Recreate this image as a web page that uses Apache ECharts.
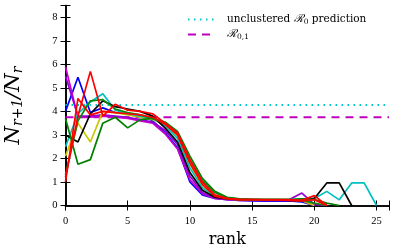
<!DOCTYPE html>
<html><head><meta charset="utf-8">
<script src="https://cdn.jsdelivr.net/npm/echarts@6/dist/echarts.min.js"></script>
<style>html,body{margin:0;padding:0;background:#fff}#c{width:400px;height:250px}</style>
</head><body><div id="c"></div>
<script>
const xTicks = [0, 5, 10, 15, 20, 25];
const yTicks = [0, 1, 2, 3, 4, 5, 6, 7, 8];
const unclusteredR0 = 4.27;
const R01 = 3.75;
const blue    = [4.0, 5.45, 3.95, 4.15, 3.95, 3.9, 3.85, 3.6, 3.1, 2.45, 1.0, 0.45, 0.3, 0.25, 0.22, 0.2, 0.18, 0.18, 0.2, 0.15, 0.0];
const magenta = [5.9, 3.75, 3.75, 3.8, 3.75, 3.7, 3.6, 3.5, 3.05, 2.4, 1.1, 0.5, 0.3, 0.25, 0.22, 0.22, 0.22, 0.22, 0.22, 0.2, 0.0];
const purple  = [5.5, 3.8, 3.8, 3.85, 3.8, 3.75, 3.65, 3.55, 3.2, 2.6, 1.25, 0.55, 0.32, 0.26, 0.24, 0.24, 0.24, 0.24, 0.25, 0.53, 0.05, 0.0];
const yellow  = [2.1, 3.5, 2.7, 4.0, 3.95, 3.85, 3.75, 3.65, 3.45, 2.95, 1.75, 0.8, 0.4, 0.28, 0.25, 0.25, 0.25, 0.25, 0.24, 0.2, 0.0];
const cyan    = [2.5, 3.9, 4.4, 4.75, 4.05, 3.9, 3.8, 3.7, 3.4, 2.85, 1.6, 0.75, 0.4, 0.28, 0.25, 0.25, 0.25, 0.25, 0.25, 0.28, 0.3, 0.6, 0.24, 0.96, 0.96, 0.0];
const black   = [3.0, 2.7, 3.9, 4.45, 4.2, 4.1, 4.0, 3.8, 3.3, 2.7, 1.4, 0.65, 0.35, 0.28, 0.25, 0.25, 0.24, 0.24, 0.22, 0.2, 0.3, 0.96, 0.96, 0.0];
const green1  = [3.7, 1.75, 1.95, 3.5, 3.75, 3.3, 3.65, 3.7, 3.55, 3.15, 2.1, 1.15, 0.6, 0.35, 0.28, 0.25, 0.25, 0.25, 0.25, 0.28, 0.25, 0.1, 0.0];
const green2  = [1.3, 3.6, 4.45, 4.5, 4.1, 3.95, 3.85, 3.7, 3.5, 3.05, 1.95, 1.05, 0.55, 0.32, 0.27, 0.25, 0.25, 0.25, 0.25, 0.22, 0.1, 0.0];
const red2    = [1.0, 4.55, 3.85, 4.0, 3.95, 3.9, 3.85, 3.75, 3.45, 3.0, 1.8, 0.9, 0.4, 0.28, 0.25, 0.25, 0.24, 0.24, 0.22, 0.2, 0.25, 0.0];
const red1    = [1.2, 3.8, 5.7, 3.8, 4.3, 4.05, 4.0, 3.9, 3.5, 3.1, 1.95, 1.0, 0.45, 0.3, 0.25, 0.25, 0.25, 0.25, 0.25, 0.22, 0.42, 0.0];

const runs = [
  ['blue', blue, '#0000ff'], ['magenta', magenta, '#cc00cc'], ['purple', purple, '#9400d3'],
  ['yellow', yellow, '#c8c800'], ['cyan', cyan, '#00c0c0'], ['black', black, '#000000'],
  ['green1', green1, '#008000'], ['green2', green2, '#0a8a0a'], ['red2', red2, '#ff0000'], ['red1', red1, '#ff0000']
];
const F = 'Liberation Serif, DejaVu Serif, serif';
const FD = 'DejaVu Serif, serif';
const series = runs.map(([n, d, c]) => ({
  name: n, type: 'line', data: d.map((v, i) => [i, v]), symbol: 'none',
  lineStyle: {color: c, width: 1.7}, itemStyle: {color: c}, silent: true, z: 3
}));
series.push({name: 'R0', type: 'line', data: [[0, unclusteredR0], [26, unclusteredR0]], symbol: 'none',
  lineStyle: {color: '#00c8c8', width: 2, type: [1.5, 4.5]}, itemStyle: {color: '#00c8c8'}, z: 2});
series.push({name: 'R01', type: 'line', data: [[0, R01], [26, R01]], symbol: 'none',
  lineStyle: {color: '#c000c0', width: 2, type: [8, 6]}, itemStyle: {color: '#c000c0'}, z: 2});

const chart = echarts.init(document.getElementById('c'));
const axLine = {show: true, lineStyle: {color: '#000', width: 1.6}};
chart.setOption({
  animation: false,
  grid: {left: 65.5, right: 11, top: 5.5, bottom: 44.5, containLabel: false, outerBoundsMode: 'none'},
  legend: {
    data: ['R0', 'R01'], orient: 'vertical', left: 182, top: 9, itemWidth: 28, itemHeight: 12, itemGap: 3,
    selectedMode: false, itemStyle: {opacity: 0},
    formatter: n => n === 'R0' ? '{t|unclustered }{r|ℛ}{s|0}{t| prediction}' : '{r|ℛ}{s|0,1}',
    textStyle: {fontFamily: FD, fontSize: 10.5, color: '#000', padding: [0, 0, 0, 6], rich: {
      t: {fontFamily: FD, fontSize: 10.5, color: '#000'},
      r: {fontFamily: FD, fontSize: 11, fontStyle: 'italic', color: '#000'},
      s: {fontFamily: FD, fontSize: 7.5, color: '#000', padding: [5, 0, 0, 0]}
    }}
  },
  xAxis: [
    {type: 'value', min: 0, max: 26, interval: 5, position: 'bottom', axisLine: axLine,
     axisTick: {show: true, inside: true, length: 5, lineStyle: {color: '#000', width: 1}},
     axisLabel: {fontFamily: F, fontSize: 10.5, color: '#000', margin: 10,
       formatter: v => xTicks.includes(v) ? String(v) : ''}, splitLine: {show: false},
     name: 'rank', nameLocation: 'middle', nameGap: 25, nameTextStyle: {fontFamily: FD, fontSize: 16, color: '#000'}},
    {type: 'value', min: 0, max: 26, interval: 5, position: 'top', axisLine: axLine,
     axisTick: {show: true, inside: true, length: 5, lineStyle: {color: '#000', width: 1}},
     axisLabel: {show: false}, splitLine: {show: false}}
  ],
  yAxis: [
    {type: 'value', min: 0, max: 8.5, interval: 1, position: 'left', axisLine: axLine,
     axisTick: {show: true, inside: true, length: 5, lineStyle: {color: '#000', width: 1}},
     axisLabel: {fontFamily: F, fontSize: 10.5, color: '#000', margin: 8,
       formatter: v => yTicks.includes(v) ? String(v) : ''}, splitLine: {show: false},
     name: '{i|N}{s|r+1}{i|/N}{s|r}', nameLocation: 'middle', nameGap: 40, nameRotate: 90,
     nameTextStyle: {fontFamily: FD, color: '#000', rich: {
       i: {fontFamily: FD, fontSize: 21, fontStyle: 'italic', color: '#000'},
       s: {fontFamily: FD, fontSize: 14, fontStyle: 'italic', color: '#000', padding: [9, 0, 0, 0]}
     }}},
    {type: 'value', min: 0, max: 8.5, interval: 1, position: 'right', axisLine: axLine,
     axisTick: {show: true, inside: true, length: 5, lineStyle: {color: '#000', width: 1}},
     axisLabel: {show: false}, splitLine: {show: false}}
  ],
  series: series
});
</script></body></html>
